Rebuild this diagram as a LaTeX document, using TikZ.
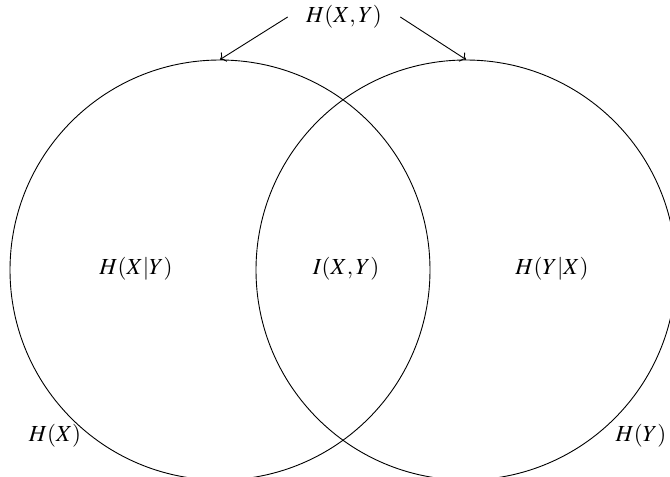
\documentclass[tikz,border=0pt]{standalone}
\usepackage{mathptmx}
\usepackage{tikz}
\usetikzlibrary{arrows.meta,positioning}
\tikzset{
  venn/.style={
    circle,
    draw=black,
    minimum size=210pt,
    inner sep=0pt
  },
  pointer/.style={
    ->,
    line width=0.45pt
  },
  vlabel/.style={
    inner sep=2pt,
    font=\fontsize{11.5}{14}\selectfont
  }
}

\begin{document}
\begin{tikzpicture}[x=0.5pt, y=-0.5pt, line width=0.45pt]
  % same frame as the 670x477 reference
  \useasboundingbox (0,0) rectangle (670,477);

  % the two sets
  \node[venn] (hx) at (220,270) {};
  \node[venn] (hy) at (466,270) {};

  % region labels
  \node[vlabel] (hxgy) at (136,269) {$H(X|Y)$};
  \node[vlabel] (ixy)  at (346,269) {$I(X,Y)$};
  \node[vlabel] (hygx) at (552,269) {$H(Y|X)$};
  \node[vlabel] (lhx)  at (55,436)  {$H(X)$};
  \node[vlabel] (lhy)  at (641,436) {$H(Y)$};

  % joint entropy points to both circles
  \node[vlabel, inner xsep=9pt] (hxy) at (344,17) {$H(X,Y)$};
  \draw[pointer] (hxy.west) -- (hx.north);
  \draw[pointer] (hxy.east) -- (hy.north);
\end{tikzpicture}
\end{document}
